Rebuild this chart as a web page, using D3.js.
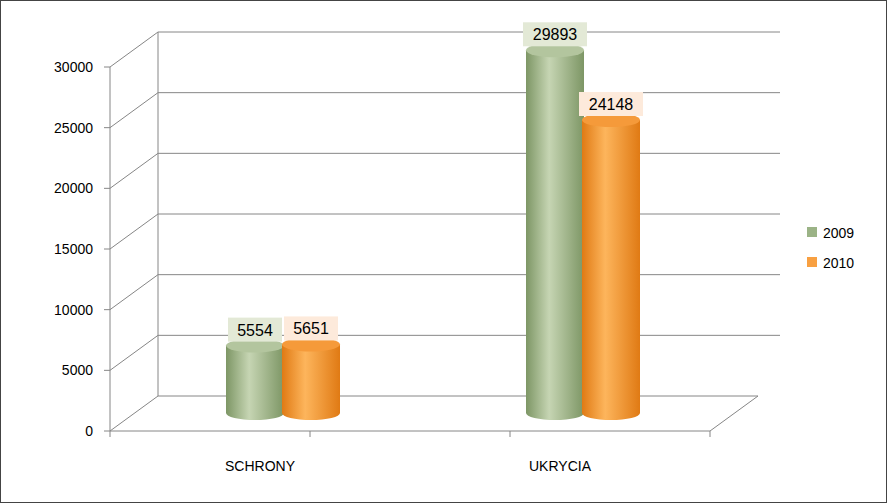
<!DOCTYPE html>
<html><head><meta charset="utf-8">
<script src="https://cdn.jsdelivr.net/npm/d3@7/dist/d3.min.js"></script>
<style>body{margin:0;background:#fff}svg{display:block}</style>
</head><body><div id="chart"></div>
<script>
const categories = ["SCHRONY", "UKRYCIA"];
const seriesNames = ["2009", "2010"];
const values2009 = [5554, 29893];
const values2010 = [5651, 24148];
const yTicks = [0, 5000, 10000, 15000, 20000, 25000, 30000];

const W = 887, H = 503;
const svg = d3.select("#chart").append("svg").attr("width", W).attr("height", H);
svg.append("rect").attr("x", 0.5).attr("y", 0.5).attr("width", W - 1).attr("height", H - 1)
  .attr("fill", "#fff").attr("stroke", "#444");

const x0 = 110, x1 = 710, yBase = 431, dx = 48, dy = -35;
const y = d3.scaleLinear().domain([0, 30000]).range([0, 364]);
const xb = d3.scaleBand().domain(categories).range([x0, x1]).paddingInner(0);
const xs = d3.scaleBand().domain(seriesNames).range([-56, 56]);
const line = (a, b, c, d) => svg.append("line").attr("x1", a).attr("y1", b).attr("x2", c).attr("y2", d)
  .attr("stroke", "#868686").attr("stroke-width", 1);

// walls
yTicks.forEach(v => {
  const h = y(v);
  line(x0 + dx, yBase + dy - h, x1 + dx + (v === 0 ? 0 : 22), yBase + dy - h);
  line(x0, yBase - h, x0 + dx, yBase + dy - h);
  line(x0 - 6, yBase - h, x0, yBase - h);
  svg.append("text").attr("x", 93).attr("y", yBase - h + 5).attr("text-anchor", "end")
    .attr("font-family", "Liberation Sans, Arial").attr("font-size", 14).text(v);
});
line(x0 + dx, yBase + dy, x0 + dx, yBase + dy - y(30000));
line(x0, yBase, x0, yBase - y(30000));
line(x0, yBase, x1, yBase);
line(x1, yBase, x1 + dx, yBase + dy);
[0, 1, 2, 3].forEach(i => line(x0 + i * 200, yBase, x0 + i * 200, yBase + 6));

const defs = svg.append("defs");
function grad(id, dark, light) {
  const g = defs.append("linearGradient").attr("id", id);
  g.append("stop").attr("offset", "0%").attr("stop-color", dark);
  g.append("stop").attr("offset", "40%").attr("stop-color", light);
  g.append("stop").attr("offset", "100%").attr("stop-color", dark);
}
grad("g2009", "#7d9665", "#c6d5b3");
grad("g2010", "#e07a14", "#fdb55c");
const tops = { "2009": "#b3c59e", "2010": "#f59a3a" };
const labelBg = { "2009": "#e3e9d6", "2010": "#fdeadb" };

const data = [];
categories.forEach((c, i) => {
  data.push({ c, s: "2009", v: values2009[i] });
  data.push({ c, s: "2010", v: values2010[i] });
});
const cylBase = 413, rx = 29, ry = 7;
data.forEach(d => {
  const cx = xb(d.c) + xb.bandwidth() / 2 + 23 + xs(d.s) + xs.bandwidth() / 2;
  const top = cylBase - y(d.v);
  const g = svg.append("g");
  g.append("path").attr("d",
    `M${cx - rx},${top} L${cx - rx},${cylBase} A${rx},${ry} 0 0 0 ${cx + rx},${cylBase} L${cx + rx},${top} Z`)
    .attr("fill", `url(#g${d.s})`);
  g.append("ellipse").attr("cx", cx).attr("cy", top).attr("rx", rx).attr("ry", ry).attr("fill", tops[d.s]);
  const tw = d.v >= 10000 ? 64 : 54;
  g.append("rect").attr("x", cx - tw / 2).attr("y", top - 28).attr("width", tw).attr("height", 24)
    .attr("fill", labelBg[d.s]);
  g.append("text").attr("x", cx).attr("y", top - 10).attr("text-anchor", "middle")
    .attr("font-family", "Liberation Sans, Arial").attr("font-size", 16).text(d.v);
});

categories.forEach(c => {
  svg.append("text").attr("x", xb(c) + xb.bandwidth() / 2).attr("y", 471).attr("text-anchor", "middle")
    .attr("font-family", "Liberation Sans, Arial").attr("font-size", 14).text(c);
});

seriesNames.forEach((s, i) => {
  svg.append("rect").attr("x", 807).attr("y", 227 + i * 30).attr("width", 10).attr("height", 10)
    .attr("fill", s === "2009" ? "#9bb386" : "#f8a042");
  svg.append("text").attr("x", 823).attr("y", 238 + i * 30)
    .attr("font-family", "Liberation Sans, Arial").attr("font-size", 14).text(s);
});
</script></body></html>
